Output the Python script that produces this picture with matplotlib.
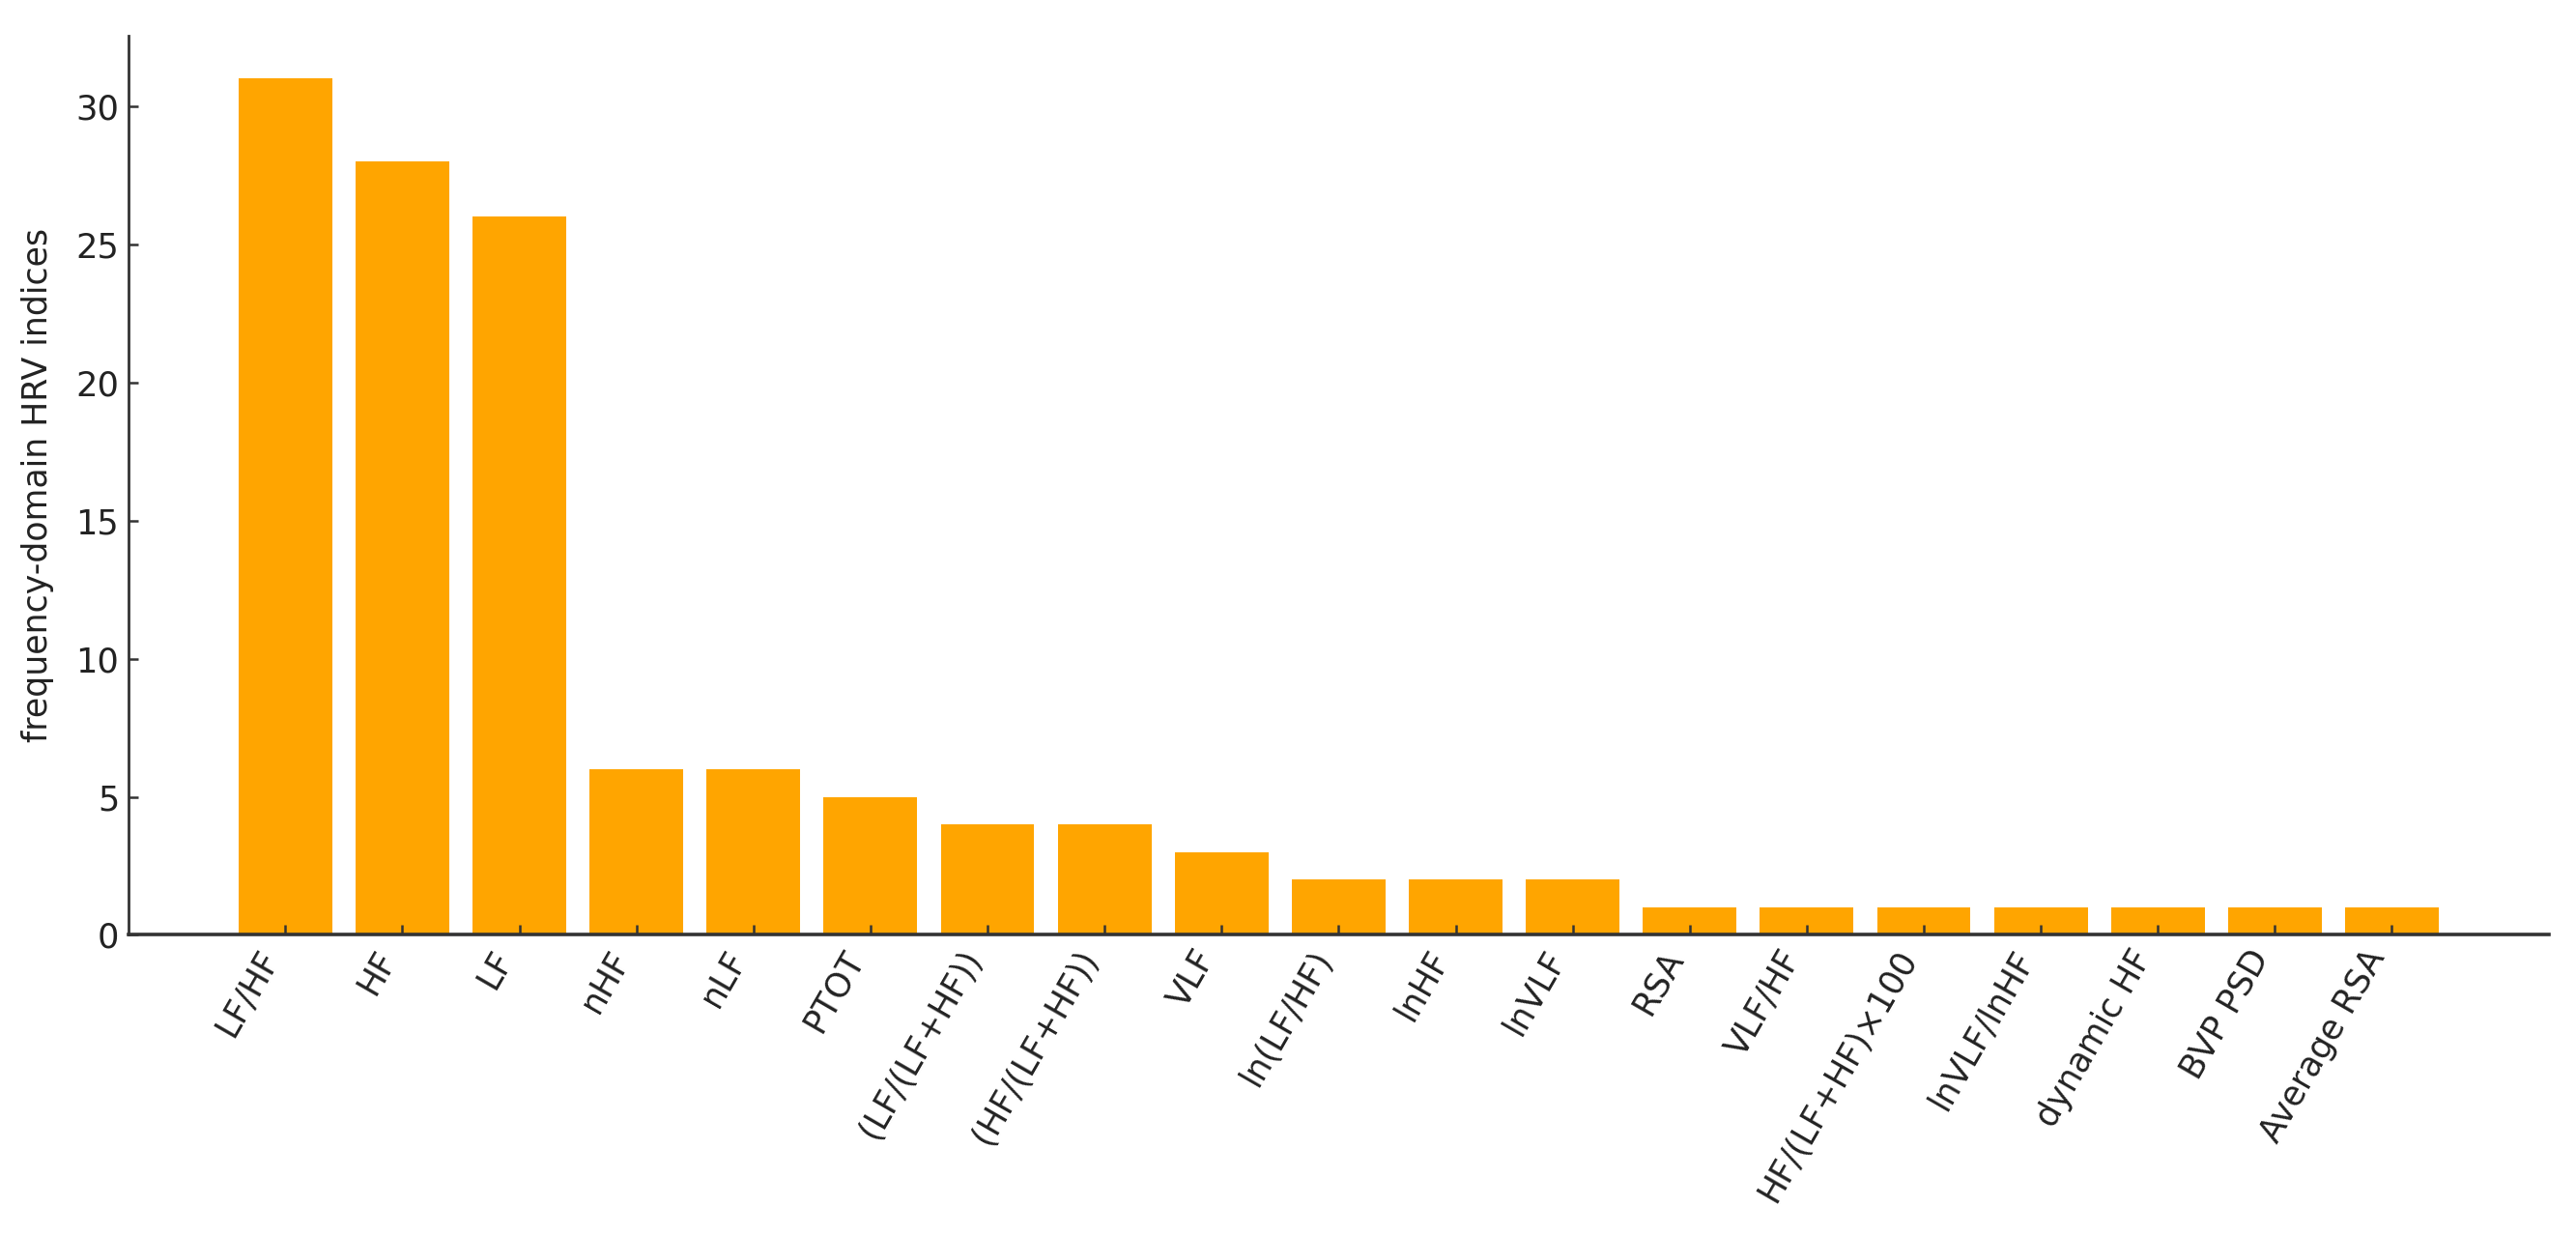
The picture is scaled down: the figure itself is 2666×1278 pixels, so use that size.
import matplotlib
matplotlib.use('Agg')
import matplotlib.pyplot as plt

# counts of studies using each frequency-domain HRV index
indices = ['LF/HF', 'HF', 'LF', 'nHF', 'nLF', 'PTOT', '(LF/(LF+HF))', '(HF/(LF+HF))',
           'VLF', 'ln(LF/HF)', 'lnHF', 'lnVLF', 'RSA', 'VLF/HF', 'HF/(LF+HF)×100',
           'lnVLF/lnHF', 'dynamic HF', 'BVP PSD', 'Average RSA']
counts = [31, 28, 26, 6, 6, 5, 4, 4, 3, 2, 2, 2, 1, 1, 1, 1, 1, 1, 1]

fig = plt.figure(figsize=(13.33, 6.39), dpi=200, facecolor='white')
ax = fig.add_axes([0.0499, 0.243, 0.9395, 0.728])

ax.bar(range(len(indices)), counts, width=0.8, color='#FFA500')

ax.set_xticks(range(len(indices)))
ax.set_xticklabels(indices, rotation=60, ha='right', fontsize=12.5, color='#222222')
ax.tick_params(axis='y', labelsize=12.7, labelcolor='#222222')
ax.tick_params(direction='in', length=3.6, width=0.9, color='#333333')
ax.set_ylabel('frequency-domain HRV indices', fontsize=12.5, color='#222222', labelpad=8)

for side in ['top', 'right']:
    ax.spines[side].set_visible(False)
ax.spines['left'].set_color('#333333')
ax.spines['left'].set_linewidth(1.0)
ax.spines['bottom'].set_color('#333333')
ax.spines['bottom'].set_linewidth(1.3)

plt.savefig('out.png', dpi=200, facecolor='white')
plt.close()
